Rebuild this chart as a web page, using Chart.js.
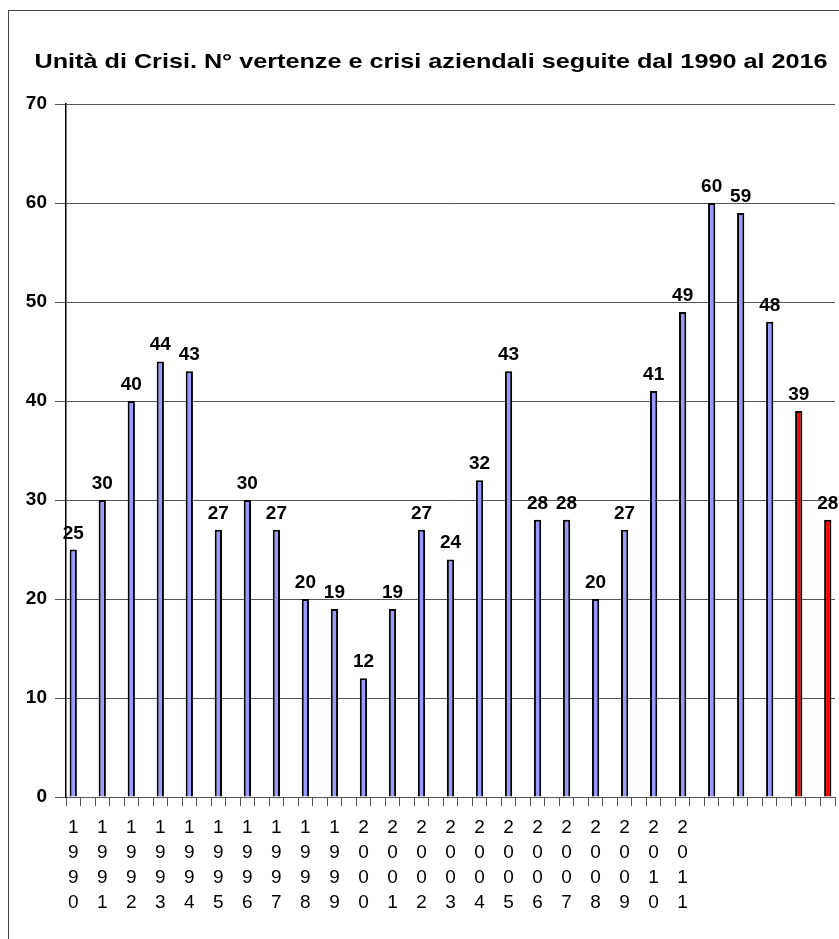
<!DOCTYPE html>
<html>
<head>
<meta charset="utf-8">
<script src="https://cdn.jsdelivr.net/npm/chart.js@4.4.0/dist/chart.umd.min.js"></script>
<style>
  html, body { margin: 0; padding: 0; background: #fff; overflow: hidden; }
  #wrap { position: relative; width: 839px; height: 939px; overflow: hidden; }
  #frame { position: absolute; left: 8px; top: 10px; width: 850px; height: 960px; border: 1px solid #444; box-sizing: border-box; pointer-events: none; }
  #myChart { position: absolute; left: 0; top: 0; }
</style>
</head>
<body>
<div id="wrap">
  <canvas id="myChart" width="862" height="960"></canvas>
  <div id="frame"></div>
</div>
<script>
const titolo = "Unità di Crisi. N° vertenze e crisi aziendali seguite dal 1990 al 2016";
const anni = [1990, 1991, 1992, 1993, 1994, 1995, 1996, 1997, 1998, 1999, 2000, 2001, 2002,
  2003, 2004, 2005, 2006, 2007, 2008, 2009, 2010, 2011, 2012, 2013, 2014, 2015, 2016];
const vertenze = [25, 30, 40, 44, 43, 27, 30, 27, 20, 19, 12, 19, 27,
  24, 32, 43, 28, 28, 20, 27, 41, 49, 60, 59, 48, 39, 28];
// only these years show a label under the axis
const etichetteAnni = ["1990", "1991", "1992", "1993", "1994", "1995", "1996", "1997", "1998",
  "1999", "2000", "2001", "2002", "2003", "2004", "2005", "2006", "2007", "2008", "2009", "2010", "2011"];
const anniRossi = [2015, 2016];
const yTicks = [0, 10, 20, 30, 40, 50, 60, 70];

const BLU = "#9999FF";
const ROSSO = "#FF0000";
const FONT = "'Liberation Sans', Arial, sans-serif";

// each year takes two slots: the bar, then an empty slot (last empty one dropped)
let labels = [];
let dati = [];
let colori = [];
for (let i = 0; i < anni.length * 2 - 1; i++) {
  if (i % 2 === 0) {
    let k = i / 2;
    let a = String(anni[k]);
    labels.push(etichetteAnni.includes(a) ? a.split("") : "");
    dati.push(vertenze[k]);
    colori.push(anniRossi.includes(anni[k]) ? ROSSO : BLU);
  } else {
    labels.push("");
    dati.push(null);
    colori.push(BLU);
  }
}

// title is drawn a bit stretched sideways, like the original
const titoloLargo = {
  id: "titoloLargo",
  afterDraw(chart) {
    const ctx = chart.ctx;
    ctx.save();
    ctx.font = "bold 21px " + FONT;
    ctx.fillStyle = "#000";
    ctx.textAlign = "center";
    ctx.textBaseline = "alphabetic";
    const w = ctx.measureText(titolo).width;
    const sx = 793 / w;
    ctx.translate(431, 68);
    ctx.scale(sx, 1);
    ctx.fillText(titolo, 0, 0);
    ctx.restore();
  }
};

const valoriSopra = {
  id: "valoriSopra",
  afterDatasetsDraw(chart) {
    const ctx = chart.ctx;
    const meta = chart.getDatasetMeta(0);
    ctx.save();
    ctx.font = "bold 19px " + FONT;
    ctx.fillStyle = "#000";
    ctx.textAlign = "center";
    ctx.textBaseline = "alphabetic";
    meta.data.forEach((bar, i) => {
      const v = chart.data.datasets[0].data[i];
      if (v === null) return;
      ctx.fillText(String(v), bar.x, bar.y - 11);
    });
    ctx.restore();
  }
};

const ctx = document.getElementById("myChart");
new Chart(ctx, {
  type: "bar",
  data: {
    labels: labels,
    datasets: [
      {
        label: "Vertenze",
        data: dati,
        backgroundColor: colori,
        borderColor: "#000",
        borderWidth: 2,
        categoryPercentage: 1,
        barPercentage: 0.5,
      },
    ],
  },
  options: {
    responsive: false,
    animation: false,
    layout: { padding: { left: 0, right: 27, top: 104, bottom: 23 } },
    plugins: {
      legend: { display: false },
      tooltip: { enabled: false },
      title: { display: false },
    },
    scales: {
      x: {
        offset: true,
        grid: {
          display: true,
          offset: true,
          drawOnChartArea: false,
          drawTicks: true,
          tickLength: 9,
          color: "#555",
        },
        border: { display: false },
        ticks: {
          autoSkip: false,
          maxRotation: 0,
          minRotation: 0,
          padding: 9.5,
          color: "#000",
          font: { family: FONT, size: 19, lineHeight: 25 / 19 },
        },
        afterFit(scale) { scale.height = 140; },
      },
      y: {
        min: 0,
        max: 70,
        afterBuildTicks(scale) { scale.ticks = yTicks.map(v => ({ value: v })); },
        grid: { color: "#555", lineWidth: 1, tickLength: 11, drawTicks: true },
        border: { display: true, color: "#000", width: 1.5 },
        ticks: {
          padding: 8,
          color: "#000",
          font: { family: FONT, size: 19, weight: "bold" },
        },
        afterFit(scale) { scale.width = 66; },
      },
    },
  },
  plugins: [valoriSopra, titoloLargo],
});
</script>
</body>
</html>
